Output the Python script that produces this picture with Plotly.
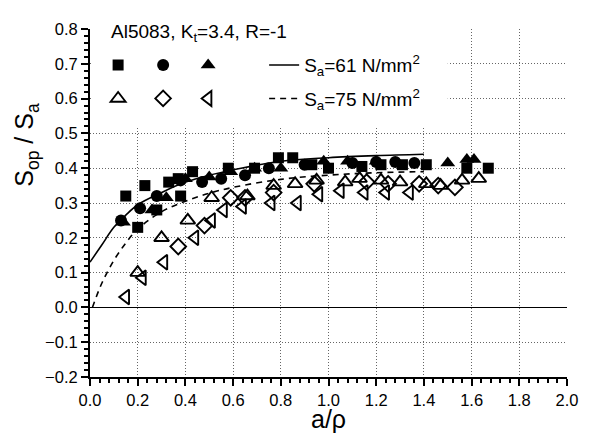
import plotly.graph_objects as go

# ---- data ----
sq_x = [0.15, 0.20, 0.23, 0.28, 0.33, 0.37, 0.38, 0.43, 0.58, 0.69, 0.79, 0.85, 0.93, 1.00, 1.14, 1.22, 1.31, 1.41, 1.58, 1.67]
sq_y = [0.32, 0.23, 0.35, 0.28, 0.36, 0.37, 0.32, 0.39, 0.40, 0.40, 0.43, 0.43, 0.41, 0.40, 0.405, 0.41, 0.41, 0.41, 0.40, 0.40]

ci_x = [0.13, 0.21, 0.28, 0.38, 0.47, 0.55, 0.65, 0.75, 0.90, 1.10, 1.20, 1.28, 1.36]
ci_y = [0.25, 0.285, 0.32, 0.365, 0.36, 0.37, 0.38, 0.40, 0.41, 0.415, 0.418, 0.418, 0.415]

tr_x = [0.14, 0.26, 0.32, 0.40, 0.50, 0.59, 0.69, 0.80, 0.98, 1.08, 1.20, 1.50, 1.58, 1.61]
tr_y = [0.245, 0.28, 0.315, 0.37, 0.375, 0.39, 0.40, 0.40, 0.42, 0.42, 0.42, 0.415, 0.425, 0.425]

otr_x = [0.20, 0.30, 0.41, 0.51, 0.66, 0.77, 0.86, 0.95, 1.07, 1.13, 1.22, 1.30, 1.41, 1.47, 1.56, 1.63]
otr_y = [0.10, 0.20, 0.25, 0.315, 0.32, 0.35, 0.355, 0.365, 0.36, 0.37, 0.365, 0.36, 0.355, 0.35, 0.365, 0.37]

dia_x = [0.37, 0.48, 0.59, 0.65, 0.77, 0.94, 1.16, 1.25, 1.38, 1.46, 1.53]
dia_y = [0.175, 0.235, 0.315, 0.315, 0.33, 0.355, 0.36, 0.355, 0.355, 0.35, 0.345]

ltr_x = [0.15, 0.22, 0.31, 0.44, 0.51, 0.56, 0.64, 0.76, 0.87, 0.96, 1.05, 1.15, 1.24, 1.34]
ltr_y = [0.03, 0.085, 0.13, 0.20, 0.25, 0.28, 0.29, 0.30, 0.30, 0.325, 0.335, 0.33, 0.33, 0.33]

fit61_x = [0.0, 0.05, 0.10, 0.15, 0.20, 0.30, 0.40, 0.50, 0.60, 0.80, 1.00, 1.20, 1.40]
fit61_y = [0.13, 0.18, 0.23, 0.265, 0.295, 0.33, 0.36, 0.38, 0.395, 0.42, 0.43, 0.436, 0.44]

fit75_x = [0.01, 0.05, 0.10, 0.15, 0.20, 0.30, 0.40, 0.50, 0.60, 0.80, 1.00, 1.20, 1.40]
fit75_y = [0.0, 0.07, 0.135, 0.185, 0.225, 0.275, 0.305, 0.328, 0.345, 0.368, 0.38, 0.387, 0.39]

header = "Al5083, K<sub>t</sub>=3.4, R=-1"
label61 = "S<sub>a</sub>=61 N/mm<sup>2</sup>"
label75 = "S<sub>a</sub>=75 N/mm<sup>2</sup>"
x_title = "a/ρ"
y_title = "S<sub>op</sub> / S<sub>a</sub>"

FONT = "Liberation Sans, Arial, sans-serif"

fig = go.Figure()

def mk(x, y, symbol, size, legend, lw=None, linew=0):
    fig.add_trace(go.Scatter(
        x=x, y=y, mode="markers", name=" ", legend=legend,
        legendwidth=lw if lw else 0.01,
        marker=dict(symbol=symbol, size=size, color="black",
                    line=dict(color="black", width=linew)),
        hoverinfo="x+y"))

mk(sq_x, sq_y, "square", 11, "legend")
mk(ci_x, ci_y, "circle", 12, "legend")
mk(tr_x, tr_y, "triangle-up", 13, "legend", lw=31)
fig.add_trace(go.Scatter(x=fit61_x, y=fit61_y, mode="lines", name=label61, legend="legend",
                         line=dict(color="black", width=1.6, shape="spline")))

mk(otr_x, otr_y, "triangle-up-open", 13, "legend2", linew=1.9)
mk(dia_x, dia_y, "diamond-open", 12, "legend2", linew=1.9)
mk(ltr_x, ltr_y, "triangle-left-open", 13, "legend2", lw=31, linew=1.9)
fig.add_trace(go.Scatter(x=fit75_x, y=fit75_y, mode="lines", name=label75, legend="legend2",
                         line=dict(color="black", width=1.6, dash="6px,5px", shape="spline")))

axis_common = dict(
    showline=True, linecolor="black", linewidth=2,
    ticks="outside", ticklen=7, tickwidth=1.5, tickcolor="black",
    showgrid=True, gridcolor="#666666", griddash="1px,2px", gridwidth=1,
    tickfont=dict(family=FONT, size=16.5, color="black"),
    tickformat=".1f", mirror=False, ticklabeloverflow="allow",
)

fig.update_layout(
    width=582, height=425,
    margin=dict(l=82, r=18, t=13, b=56),
    plot_bgcolor="white", paper_bgcolor="white",
    font=dict(family=FONT, color="black"),
    xaxis=dict(range=[0, 2.0], dtick=0.2, tick0=0,
               minor=dict(dtick=0.04, ticks="outside", ticklen=4, tickwidth=1.5, tickcolor="black", showgrid=False),
               zeroline=False, **axis_common),
    yaxis=dict(range=[-0.2, 0.8], dtick=0.1, tick0=0,
               minor=dict(dtick=0.02, ticks="outside", ticklen=4, tickwidth=1.5, tickcolor="black", showgrid=False),
               zeroline=True, zerolinecolor="black", zerolinewidth=1.2, **axis_common),
    legend=dict(orientation="h", x=0.017, xanchor="left", y=0.896, yanchor="middle",
                bgcolor="rgba(0,0,0,0)", font=dict(family=FONT, size=19), traceorder="normal",
                itemclick=False),
    legend2=dict(orientation="h", x=0.017, xanchor="left", y=0.80, yanchor="middle",
                 bgcolor="rgba(0,0,0,0)", font=dict(family=FONT, size=19), traceorder="normal",
                 itemclick=False),
    showlegend=True,
    shapes=[dict(type="rect", xref="x", yref="y", x0=0.01, x1=1.5, y0=0.52, y1=0.8,
                 fillcolor="white", line=dict(width=0), layer="between")],
    annotations=[
        dict(text=header, xref="paper", yref="paper", x=0.04, y=0.988, xanchor="left", yanchor="middle",
             showarrow=False, font=dict(family=FONT, size=19)),
        dict(text=y_title, xref="paper", yref="paper", x=-0.133, y=0.666, xanchor="center", yanchor="middle",
             textangle=-90, showarrow=False, font=dict(family=FONT, size=25)),
        dict(text=x_title, xref="paper", yref="paper", x=0.5, y=-0.076, xanchor="center", yanchor="top",
             showarrow=False, font=dict(family=FONT, size=25)),
    ],
)

fig.write_html("out.html")
